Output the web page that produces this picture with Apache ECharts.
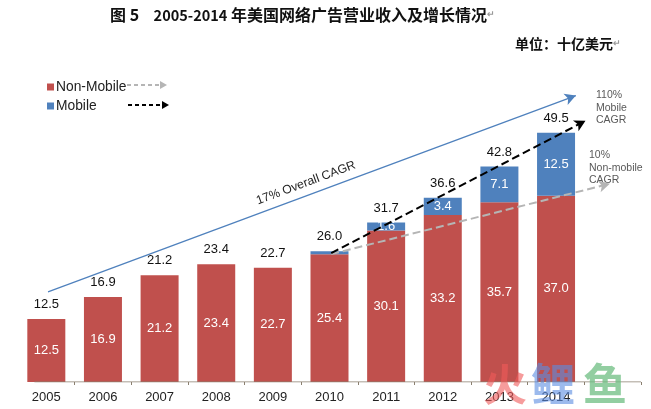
<!DOCTYPE html>
<html>
<head>
<meta charset="utf-8">
<style>html,body{margin:0;padding:0;background:#fff}#main{width:651px;height:409px}</style>
<script src="https://cdn.jsdelivr.net/npm/echarts@6/dist/echarts.min.js"></script>
</head>
<body>
<div id="main"></div>
<script>
var years = ['2005','2006','2007','2008','2009','2010','2011','2012','2013','2014',''];
var nonMobile = [12.5,16.9,21.2,23.4,22.7,25.4,30.1,33.2,35.7,37.0,null];
var mobile = [null,null,null,null,null,0.6,1.6,3.4,7.1,12.5,null];
var totals = [12.5,16.9,21.2,23.4,22.7,26.0,31.7,36.6,42.8,49.5,null];
// arrows, [category position, value]
var overallArrow = [[0.03,17.9],[9.35,56.9]];
var mobileArrow = [[5.03,25.6],[9.52,51.9]];
var nonMobileArrow = [[5.03,25.4],[9.95,39.4]];
var baseline = [[-0.21,0],[10.5,0]];
var tickPositions = [0.5,1.5,2.5,3.5,4.5,5.5,6.5,7.5,8.5,9.5,10.5];

var font = '"Liberation Sans", Arial, sans-serif';
var cjk = '"Noto Sans CJK SC", sans-serif';

function arrowSeries(pts, color, type, width){
    return {
        type: 'line',
        xAxisIndex: 1,
        data: pts,
        showSymbol: false,
        silent: true,
        lineStyle: {width: 0},
        z: 5,
        markLine: {
            silent: true,
            animation: false,
            symbol: ['none','arrow'],
            symbolSize: [9,11],
            label: {show: false},
            lineStyle: {color: color, type: type, width: width, opacity: 1},
            data: [[{coord: pts[0]},{coord: pts[1]}]]
        }
    };
}

function legendArrow(x1, x2, y, color){
    return [
        {type:'line', shape:{x1:x1,y1:y,x2:x2-6,y2:y}, style:{stroke:color,lineWidth:2,lineDash:[4,3]}},
        {type:'polygon', shape:{points:[[x2-7,y-4],[x2,y],[x2-7,y+4]]}, style:{fill:color}}
    ];
}

function note(x, y, text, color){
    return {type:'text', left:x, top:y, style:{text:text, fill:color, font:'10.5px '+font, lineHeight:12.5}};
}

var myChart = echarts.init(document.getElementById('main'));
var option = {
    animation: false,
    backgroundColor: '#fff',
    title: [
        {
            text: '图 5    {d|2005-2014} 年美国网络广告营业收入及增长情况{m|↵}',
            left: 105, top: 2,
            textStyle: {fontFamily: cjk, fontSize: 16, fontWeight: 'bold', color: '#111',
                rich: {
                    d: {fontFamily: cjk, fontSize: 14.5, fontWeight: 'bold', color: '#111'},
                    m: {color: '#999', fontSize: 9, fontFamily: font}
                }}
        },
        {
            text: '单位：十亿美元{m|↵}',
            left: 510, top: 32,
            textStyle: {fontFamily: cjk, fontSize: 14, fontWeight: 'bold', color: '#111',
                rich: {m: {color: '#999', fontSize: 9, fontFamily: font}}}
        }
    ],
    legend: {
        data: ['Non-Mobile','Mobile'],
        orient: 'vertical',
        left: 42, top: 75,
        itemWidth: 7, itemHeight: 7,
        itemGap: 5,
        selectedMode: false,
        icon: 'rect',
        textStyle: {fontFamily: font, fontSize: 13.8, color: '#222', padding: [0,0,0,-3]}
    },
    grid: {left: 18, width: 623, top: 80, height: 302},
    xAxis: [
        {
            type: 'category',
            data: years,
            axisLine: {show: false},
            axisTick: {show: false},
            axisLabel: {fontFamily: font, fontSize: 13, color: '#222', margin: 9, interval: 0}
        },
        {
            type: 'value',
            position: 'bottom',
            min: -0.5, max: 10.5,
            splitLine: {show: false},
            axisLine: {show: false},
            axisLabel: {show: false},
            axisTick: {show: true, length: 3, customValues: tickPositions, lineStyle: {color: '#8a7f6f'}}
        }
    ],
    yAxis: {type: 'value', min: 0, max: 60, show: false},
    series: [
        {
            name: 'Non-Mobile',
            type: 'bar',
            stack: 'rev',
            barWidth: 38,
            data: nonMobile,
            itemStyle: {color: '#c0504d'},
            label: {show: true, position: 'inside', color: '#fff', fontFamily: font, fontSize: 13,
                formatter: function(p){ return p.value.toFixed(1); }}
        },
        {
            name: 'Mobile',
            type: 'bar',
            stack: 'rev',
            barWidth: 38,
            data: mobile,
            itemStyle: {color: '#4f81bd'},
            label: {show: true, position: 'inside', color: '#fff', fontFamily: font, fontSize: 13,
                formatter: function(p){ return p.value < 1 ? '' : p.value.toFixed(1); }}
        },
        {
            name: 'Total',
            type: 'line',
            data: totals,
            showSymbol: true,
            symbolSize: 0,
            lineStyle: {width: 0},
            z: 6,
            label: {show: true, position: 'top', distance: 8, color: '#111', fontFamily: font, fontSize: 13,
                formatter: function(p){ return p.value.toFixed(1); }}
        },
        arrowSeries(overallArrow, '#4f81bd', 'solid', 1.3),
        arrowSeries(nonMobileArrow, '#b5b5b5', 'dashed', 2),
        arrowSeries(mobileArrow, '#000', 'dashed', 2),
        {
            type: 'line',
            xAxisIndex: 1,
            data: baseline,
            showSymbol: false,
            lineStyle: {color: '#8a7f6f', width: 1.2},
            z: 4
        }
    ],
    graphic: [].concat(
        legendArrow(127, 167, 85, '#b5b5b5'),
        legendArrow(128, 169, 105, '#000'),
        [
            note(596, 89, '110%\nMobile\nCAGR', '#595959'),
            note(589, 149, '10%\nNon-mobile\nCAGR', '#595959'),
            {type:'text', x:306, y:183, rotation:20.4*Math.PI/180,
             style:{text:'17% Overall CAGR', fill:'#222', font:'12.2px '+font, align:'center', verticalAlign:'middle'}},
            {type:'text', left:483, top:362, z:50, style:{text:'火', fill:'rgba(240,90,90,0.6)', font:'bold 44px '+cjk}},
            {type:'text', left:531, top:362, z:50, style:{text:'鲤', fill:'rgba(90,140,225,0.6)', font:'bold 44px '+cjk}},
            {type:'text', left:583, top:362, z:50, style:{text:'鱼', fill:'rgba(110,190,130,0.75)', font:'bold 44px '+cjk}}
        ]
    )
};
myChart.setOption(option);
</script>
</body>
</html>
